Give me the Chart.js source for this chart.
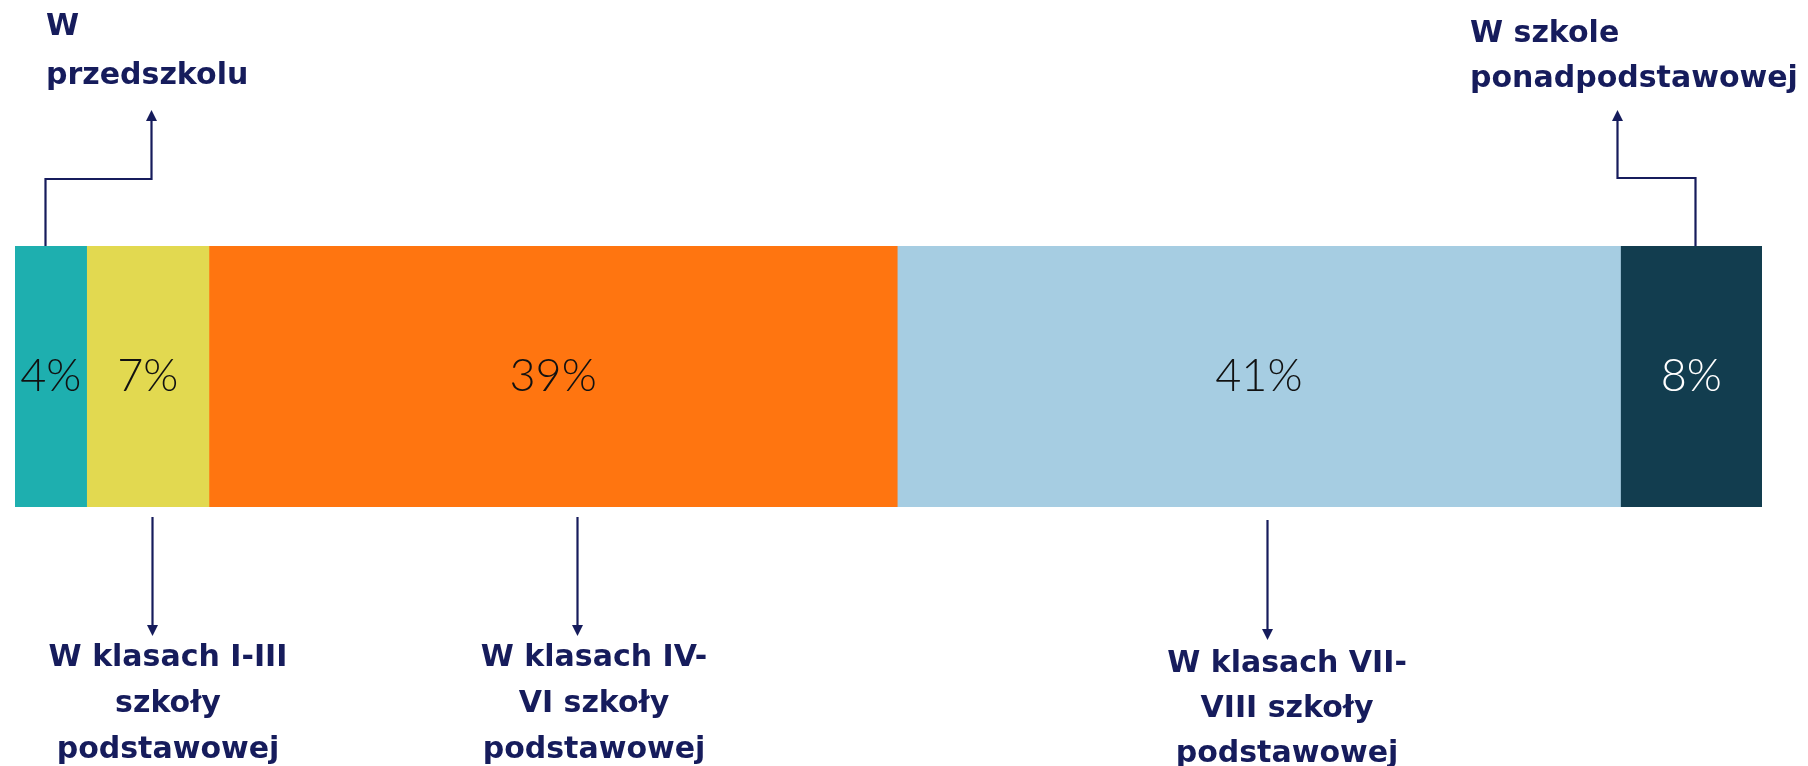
<!DOCTYPE html>
<html><head><meta charset="utf-8">
<script src="https://cdn.jsdelivr.net/npm/chart.js@4.4.0/dist/chart.umd.min.js"></script>
<style>html,body{margin:0;padding:0;background:#fff}#wrap{width:1808px;height:766px;position:relative}</style>
</head><body><div id="wrap"><canvas id="c" width="1808" height="766"></canvas></div>
<script>
const categories = ["Etap"];
const seriesNames = ["W przedszkolu","W klasach I-III szkoły podstawowej","W klasach IV-VI szkoły podstawowej","W klasach VII-VIII szkoły podstawowej","W szkole ponadpodstawowej"];
const seriesValues = [4.1, 7.0, 39.4, 41.4, 8.1];
const valueLabels = ["4%","7%","39%","41%","8%"];
const annotationLines = [["W","przedszkolu"],["W klasach I-III","szkoły","podstawowej"],["W klasach IV-","VI szkoły","podstawowej"],["W klasach VII-","VIII szkoły","podstawowej"],["W szkole","ponadpodstawowej"]];
const colors = ["#1EAFAF","#E2D950","#FF7510","#A6CDE2","#123D4F"];
const labelColors = ["#111","#111","#111","#111","#fff"];

// annotation layout (pixel style settings)
const annLayout = [
  {side:"top", dx:-6, elbowY:179, jogX:151, tipY:110, textX:46, textAlign:"left", lineY:[27,76]},
  {side:"bottom", dx:4, startY:517, tipY:636, textAlign:"center", textX:168, lineY:[658,704,750]},
  {side:"bottom", dx:24, startY:517, tipY:636, textAlign:"center", textX:594, lineY:[658,704,750]},
  {side:"bottom", dx:8, startY:520, tipY:640, textAlign:"center", textX:1287, lineY:[664,709,754]},
  {side:"top", dx:4, elbowY:178, jogX:1617, tipY:110, textX:1470, textAlign:"left", lineY:[34,79]}
];
const navy = "#161C5C";

const annPlugin = {
  id:"ann",
  afterDraw(chart){
    const ctx = chart.ctx;
    const xs = chart.scales.x;
    ctx.save();
    ctx.strokeStyle = navy; ctx.fillStyle = navy; ctx.lineWidth = 2.2;
    let cum = 0;
    seriesValues.forEach((v,i)=>{
      const mid = xs.getPixelForValue(cum + v/2);
      cum += v;
      const L = annLayout[i];
      const ax = Math.round(mid + L.dx) + 0.5;
      const meta = chart.getDatasetMeta(i).data[0];
      const top = meta.y - meta.height/2;
      ctx.beginPath();
      if (L.side === "top") {
        ctx.moveTo(ax, top);
        ctx.lineTo(ax, L.elbowY);
        ctx.lineTo(L.jogX + 0.5, L.elbowY);
        ctx.lineTo(L.jogX + 0.5, L.tipY + 10);
        ctx.stroke();
        ctx.beginPath();
        ctx.moveTo(L.jogX + 0.5, L.tipY);
        ctx.lineTo(L.jogX - 5, L.tipY + 11);
        ctx.lineTo(L.jogX + 6, L.tipY + 11);
        ctx.closePath(); ctx.fill();
      } else {
        ctx.moveTo(ax, L.startY);
        ctx.lineTo(ax, L.tipY - 10);
        ctx.stroke();
        ctx.beginPath();
        ctx.moveTo(ax, L.tipY);
        ctx.lineTo(ax - 5.5, L.tipY - 11);
        ctx.lineTo(ax + 5.5, L.tipY - 11);
        ctx.closePath(); ctx.fill();
      }
      ctx.font = "700 30px 'DejaVu Sans', sans-serif";
      ctx.textAlign = L.textAlign; ctx.textBaseline = "middle";
      annotationLines[i].forEach((t,j)=>ctx.fillText(t, L.textX, L.lineY[j]));
    });
    ctx.restore();
  }
};

const valPlugin = {
  id:"vals",
  afterDatasetsDraw(chart){
    const ctx = chart.ctx;
    ctx.save();
    ctx.font = "300 45px Lato, sans-serif";
    ctx.textAlign = "center"; ctx.textBaseline = "middle";
    seriesValues.forEach((v,i)=>{
      const el = chart.getDatasetMeta(i).data[0];
      const cx = (el.x + el.base)/2;
      ctx.fillStyle = labelColors[i];
      ctx.fillText(valueLabels[i], cx, el.y);
    });
    ctx.restore();
  }
};

new Chart(document.getElementById("c"), {
  type:"bar",
  data:{
    labels:categories,
    datasets: seriesNames.map((n,i)=>({label:n, data:[seriesValues[i]], backgroundColor:colors[i], borderWidth:0, barPercentage:1, categoryPercentage:1}))
  },
  options:{
    indexAxis:"y", responsive:false, animation:false,
    layout:{padding:{left:15,right:46,top:246,bottom:259}},
    plugins:{legend:{display:false}, tooltip:{enabled:false}},
    scales:{
      x:{stacked:true, min:0, max:100, display:false},
      y:{stacked:true, display:false}
    }
  },
  plugins:[valPlugin, annPlugin]
});
</script></body></html>
